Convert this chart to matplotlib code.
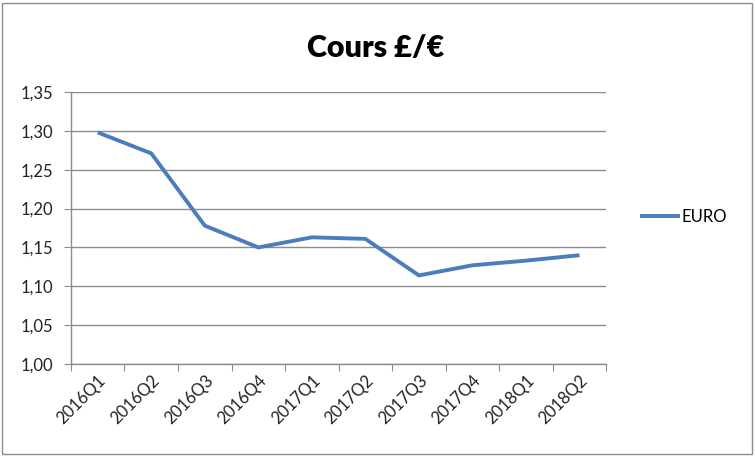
import matplotlib
matplotlib.use("Agg")
import matplotlib.pyplot as plt
from matplotlib.patches import Rectangle

# quarterly GBP/EUR rate
quarters = ["2016Q1", "2016Q2", "2016Q3", "2016Q4", "2017Q1",
            "2017Q2", "2017Q3", "2017Q4", "2018Q1", "2018Q2"]
euro = [1.298, 1.271, 1.178, 1.150, 1.163, 1.161, 1.114, 1.127, 1.133, 1.140]
y_ticks = [1.00, 1.05, 1.10, 1.15, 1.20, 1.25, 1.30, 1.35]

plt.rcParams['font.family'] = ['Lato', 'DejaVu Sans']

fig = plt.figure(figsize=(7.55, 4.57), dpi=100)
ax = fig.add_axes([0.094, 0.2035, 0.709, 0.5952])

x = range(len(quarters))
ax.plot(x, euro, color="#4A7EBB", linewidth=2.8, label="EURO",
        solid_capstyle="butt", zorder=3)

ax.set_xlim(-0.5, len(quarters) - 0.5)
ax.set_ylim(1.00, 1.35)
ax.set_yticks(y_ticks)
ax.set_yticklabels([f"{v:.2f}".replace(".", ",") for v in y_ticks])
ax.set_xticks([i - 0.5 for i in range(len(quarters) + 1)])
ax.set_xticklabels([])
ax.set_xticks(list(x), minor=True)
ax.set_xticklabels(quarters, minor=True, rotation=45, ha="right",
                   rotation_mode="anchor")

ax.grid(axis="y", color="#8c8c8c", linewidth=1.0)
ax.set_axisbelow(True)
for side in ["top", "right"]:
    ax.spines[side].set_visible(False)
for side in ["left", "bottom"]:
    ax.spines[side].set_color("#8c8c8c")
    ax.spines[side].set_linewidth(1.0)

ax.tick_params(axis="both", which="major", direction="out", length=5,
               color="#8c8c8c", labelsize=12, labelcolor="#222222")
ax.tick_params(axis="x", which="minor", length=0, pad=6,
               labelsize=12, labelcolor="#222222")
ax.tick_params(axis="y", pad=8)

fig.text(0.497, 0.895, "Cours £/€", ha="center", va="center",
         fontsize=22, fontweight="heavy", color="black")

ax.legend(loc="center left", bbox_to_anchor=(1.035, 0.54), frameon=False,
          fontsize=12, handlelength=2.4, handletextpad=0.1)

fig.patches.append(Rectangle((0.003, 0.006), 0.993, 0.988, transform=fig.transFigure,
                             fill=False, edgecolor="#8c8c8c", linewidth=1.0))

fig.savefig("out.png", dpi=100)
